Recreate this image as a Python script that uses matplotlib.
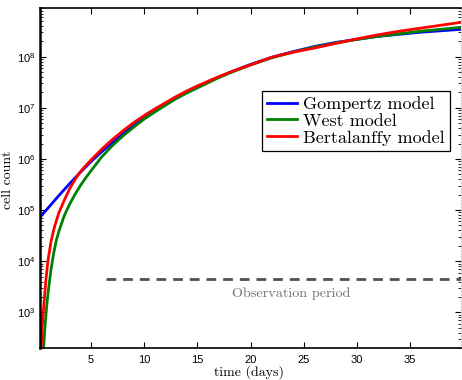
import matplotlib
matplotlib.use("Agg")
from matplotlib import pyplot as plt
from matplotlib.ticker import LogLocator, FixedLocator, NullFormatter

# values (time in days, log10 of cell count)
t_gomp = [0.2, 1, 2, 3, 4, 5, 6, 7, 8, 9, 10, 11, 12, 13, 14, 15, 16, 17, 18, 19, 20,
          22, 24, 26, 28, 30, 32, 34, 36, 38, 40]
log_gomp = [4.86, 5.05, 5.29, 5.52, 5.74, 5.95, 6.14, 6.32, 6.49, 6.65, 6.80, 6.94, 7.07,
            7.19, 7.30, 7.41, 7.51, 7.60, 7.69, 7.77, 7.85, 7.99, 8.10, 8.20, 8.28, 8.34,
            8.40, 8.44, 8.48, 8.51, 8.54]

t_west = [0.5, 0.55, 0.6, 0.7, 0.8, 0.9, 1.0, 1.25, 1.5, 1.75, 2.0, 2.5, 3.0, 3.5, 4.0,
          4.5, 5, 6, 7, 8, 9, 10, 11, 12, 13, 14, 15, 16, 17, 18, 19, 20, 22, 24, 26, 28,
          30, 32, 34, 36, 38, 40]
log_west = [2.15, 2.33, 2.5, 2.8, 3.05, 3.27, 3.45, 3.86, 4.17, 4.42, 4.60, 4.90, 5.12,
            5.31, 5.48, 5.63, 5.77, 6.04, 6.26, 6.45, 6.62, 6.78, 6.92, 7.05, 7.18, 7.29,
            7.39, 7.49, 7.59, 7.68, 7.76, 7.84, 7.98, 8.09, 8.19, 8.27, 8.34, 8.40, 8.45,
            8.50, 8.54, 8.58]

t_bert = [0.25, 0.3, 0.4, 0.5, 0.6, 0.75, 0.9, 1.0, 1.25, 1.5, 1.75, 2.0, 2.5, 3.0, 3.5,
          4.0, 4.5, 5, 6, 7, 8, 9, 10, 11, 12, 13, 14, 15, 16, 17, 18, 19, 20, 22, 24, 26,
          28, 30, 32, 34, 36, 38, 40]
log_bert = [1.9, 2.25, 2.68, 2.98, 3.24, 3.62, 3.92, 4.08, 4.40, 4.62, 4.80, 4.96, 5.20,
            5.42, 5.60, 5.75, 5.87, 5.98, 6.19, 6.38, 6.55, 6.71, 6.85, 6.98, 7.10, 7.22,
            7.33, 7.43, 7.52, 7.61, 7.69, 7.77, 7.84, 7.99, 8.09, 8.17, 8.26, 8.35, 8.43,
            8.50, 8.56, 8.62, 8.68]

obs_start, obs_end = 6.4, 40
obs_level = 4.4e3
xticks = [5, 10, 15, 20, 25, 30, 35]
yticks = [1e3, 1e4, 1e5, 1e6, 1e7, 1e8]


def main():
    plt.rcParams['mathtext.fontset'] = 'custom'
    plt.rcParams['mathtext.rm'] = 'Liberation Sans'
    plt.rcParams['mathtext.it'] = 'Liberation Sans:italic'
    plt.rcParams['font.family'] = 'Liberation Sans'

    fig = plt.figure(figsize=(4.62, 3.80), dpi=100)
    ax = fig.add_axes([40 / 462, 32 / 380, 421 / 462, 340 / 380])

    ax.plot(t_gomp, [10 ** v for v in log_gomp], color='#0000ff', lw=2, label='Gompertz model')
    ax.plot(t_west, [10 ** v for v in log_west], color='#008000', lw=2, label='West model')
    ax.plot(t_bert, [10 ** v for v in log_bert], color='#ff0000', lw=2, label='Bertalanffy model')

    ax.plot([obs_start, obs_end], [obs_level, obs_level], color='#505050', lw=2,
            ls=(0, (3.5, 2.5)))
    ax.text(23.8, 2.26e3, 'Observation period', color='#707070', fontsize=10.2,
            family='cmr10', ha='center', va='center')

    ax.set_yscale('log')
    ax.set_xlim(0.2, 39.8)
    ax.set_ylim(2e2, 9e8)
    ax.xaxis.set_major_locator(FixedLocator(xticks))
    ax.yaxis.set_major_locator(FixedLocator(yticks))
    ax.yaxis.set_minor_locator(LogLocator(base=10, subs=range(2, 10)))
    ax.yaxis.set_minor_formatter(NullFormatter())

    ax.tick_params(which='both', direction='in', top=True, right=True, labelsize=8)
    ax.tick_params(which='major', length=4, width=0.8)
    ax.tick_params(which='minor', length=2, width=0.6)
    ax.tick_params(axis='x', pad=5)

    for s in ['left', 'bottom', 'top']:
        ax.spines[s].set_linewidth(1.2)
    ax.spines['left'].set_linewidth(1.8)
    ax.spines['right'].set_color('#c8c8c8')
    ax.spines['right'].set_linestyle(':')

    ax.set_xlabel('time (days)', family='cmr10', fontsize=10)
    ax.xaxis.set_label_coords((249 - 40) / 421, (348 - 365) / 340)
    ax.set_ylabel('cell count', family='cmr10', fontsize=10)
    ax.yaxis.set_label_coords((14 - 40) / 421, (348 - 180) / 340)

    leg = ax.legend(loc='upper left', bbox_to_anchor=((262 - 40) / 421, (348 - 91) / 340),
                    borderaxespad=0, fancybox=False, framealpha=1, edgecolor='black',
                    prop={'family': 'cmr10', 'size': 13}, handlelength=1.65,
                    handletextpad=0.3, labelspacing=0.05, borderpad=0.3)
    leg.get_frame().set_linewidth(0.9)

    fig.savefig('out.png', dpi=100)


if __name__ == "__main__":
    main()
